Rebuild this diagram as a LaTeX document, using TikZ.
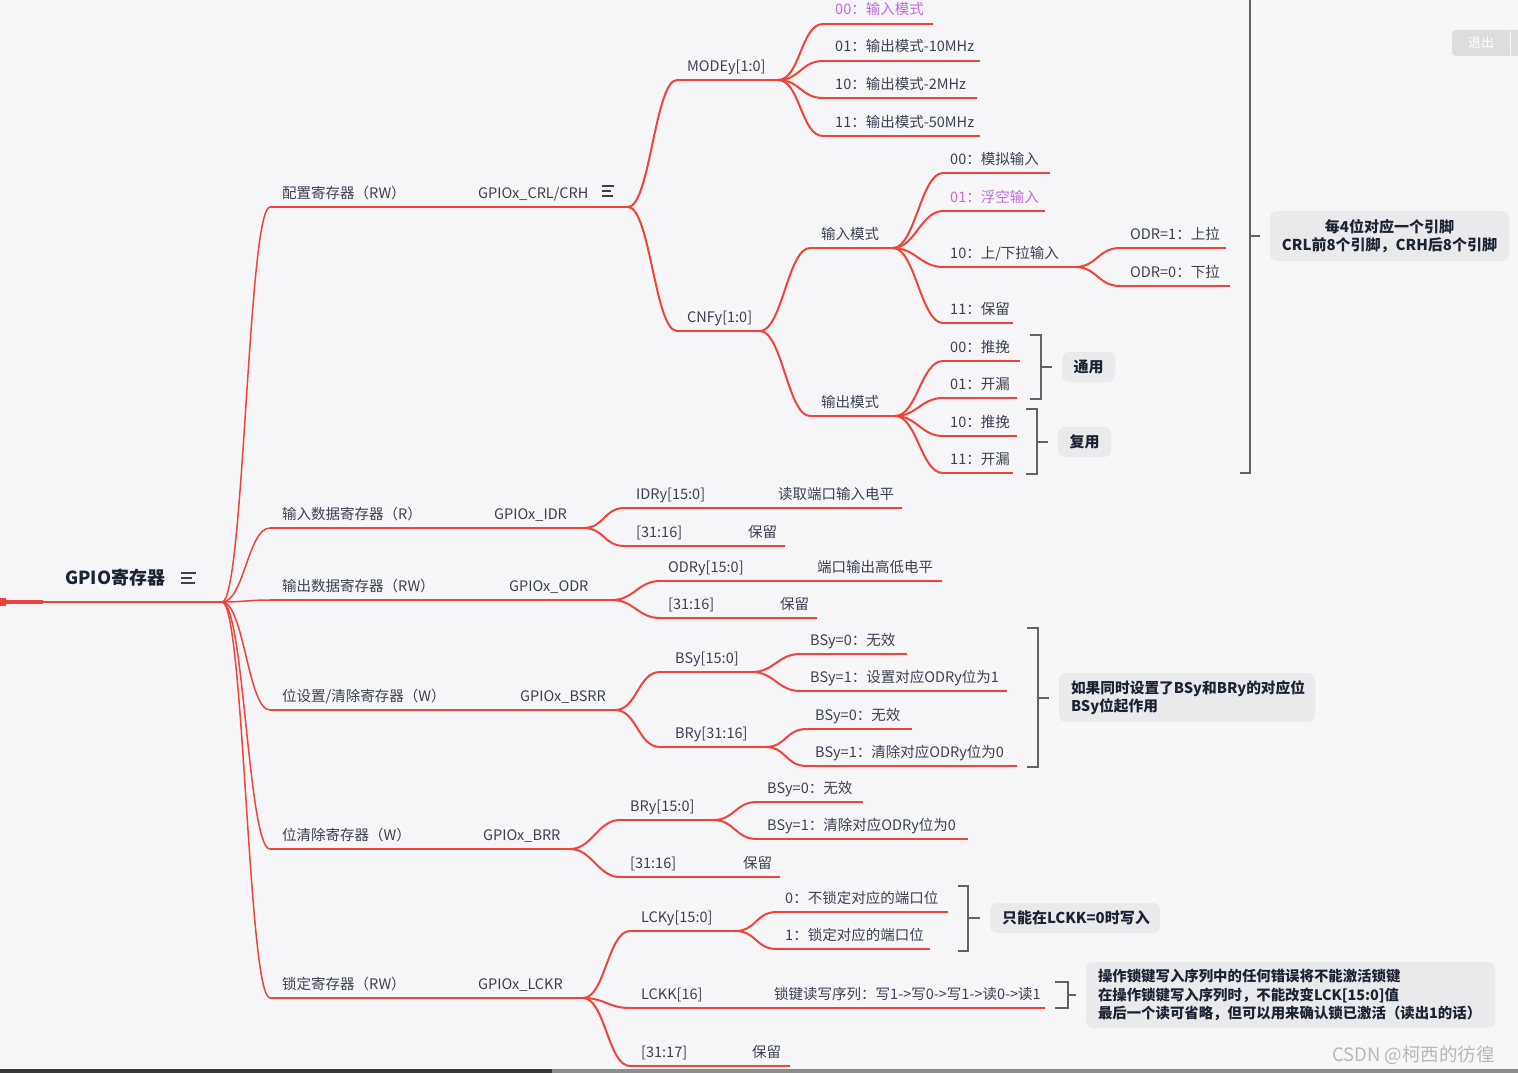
\documentclass[tikz,border=0pt]{standalone}
\usepackage{fontspec}
\setmainfont{Noto Sans CJK SC}
\usetikzlibrary{calc}
\definecolor{bgc}{HTML}{F6F6F9}
\definecolor{redl}{HTML}{F0443A}
\definecolor{txt}{HTML}{3B4150}
\definecolor{txtb}{HTML}{1C2433}
\definecolor{purp}{HTML}{C36BD6}
\definecolor{brk}{HTML}{626262}
\definecolor{cfill}{HTML}{EAEAEC}
\definecolor{wmc}{HTML}{B9B9BC}
\definecolor{qfill}{HTML}{DDDDE0}

\tikzset{
 uline/.style={draw=redl, line width=2pt},
 uline1/.style={draw=redl, line width=1.5pt},
 branch/.style={draw=redl, line width=2pt},
 branch1/.style={draw=redl, line width=1.5pt},
 lbl/.style={anchor=base west, inner sep=0pt, text=txt, font=\fontsize{14.5}{17}\selectfont},
 pur/.style={text=purp},
 brack/.style={draw=brk, line width=2pt},
 callout/.style={fill=cfill, rounded corners=7pt, text=txtb, font=\bfseries\fontsize{15}{18.5}\selectfont, inner xsep=12pt, inner ysep=0pt},
 icon/.style={draw=txt, line width=1.3pt},
}

% topic with red underline: [node opts]{name}{x0}{x1}{y}{text x}{text}
\newcommand\mmtopic[7][]{%
  \coordinate (#2-s) at (#3,#5);
  \coordinate (#2-e) at (#4,#5);
  \draw[uline] (#2-s) -- (#2-e);
  \node[lbl,#1] (#2) at (#6,#5-9) {#7};}
\newcommand\mmtopicA[6]{%
  \coordinate (#1-s) at (#2,#4);
  \coordinate (#1-e) at (#3,#4);
  \draw[uline1] (#1-s) -- (#1-e);
  \node[lbl] (#1) at (#5,#4-9) {#6};}
\newcommand\mmlink[3][branch]{\draw[#1] (#2-e) .. controls +(22,0) and +(-22,0) .. (#3-s);}
% bracket: {name}{x}{ytop}{ybot}{ymid}{xarm}
\newcommand\mmbrack[6]{%
  \coordinate (#1-t) at (#2,#3);
  \coordinate (#1-b) at (#2,#4);
  \coordinate (#1-m) at (#2,#5);
  \draw[brack] (#6,#3) -- (#1-t) -- (#1-b) -- (#6,#4);}
\newcommand\mmicon[3]{%
  \draw[icon] (#1,#2-5) -- +(#3,0);
  \draw[icon] (#1,#2) -- +(#3*0.75,0);
  \draw[icon] (#1,#2+5) -- +(#3*0.9,0);}

\begin{document}
\begin{tikzpicture}[x=1pt,y=-1pt]
\fill[bgc] (0,0) rectangle (1518,1073);
\useasboundingbox (0,0) rectangle (1518,1073);

% root
\node[anchor=base west, inner sep=0pt, text=txtb, font=\bfseries\fontsize{18}{20}\selectfont] (root) at (65,584.5) {GPIO寄存器};
\mmicon{181}{578}{15}
\coordinate (root-s) at (0,602);
\coordinate (root-m) at (43,602);
\coordinate (root-e) at (222,602);
\fill[redl] (0,598) rectangle (6,606);
\draw[redl, line width=4pt] (root-s) -- (root-m);
\draw[redl, line width=2pt] (root-m) -- (root-e);

% level 1 + register names
\mmtopicA{c1}{270}{415}{207}{282}{配置寄存器（RW）}
\mmtopicA{c1g}{415}{628}{207}{478}{GPIOx\_CRL/CRH}
\mmicon{602}{191}{12}
\mmtopicA{c2}{270}{430}{528}{282}{输入数据寄存器（R）}
\mmtopicA{c2g}{430}{583}{528}{494}{GPIOx\_IDR}
\mmtopicA{c3}{270}{445}{600}{282}{输出数据寄存器（RW）}
\mmtopicA{c3g}{445}{612}{600}{509}{GPIOx\_ODR}
\mmtopicA{c4}{270}{455}{710}{282}{位设置/清除寄存器（W）}
\mmtopicA{c4g}{455}{615}{710}{520}{GPIOx\_BSRR}
\mmtopicA{c5}{270}{420}{849}{282}{位清除寄存器（W）}
\mmtopicA{c5g}{420}{570}{849}{483}{GPIOx\_BRR}
\mmtopicA{c6}{270}{415}{998}{282}{锁定寄存器（RW）}
\mmtopicA{c6g}{415}{583}{998}{478}{GPIOx\_LCKR}
\foreach \c in {c1,c2,c3,c4,c5,c6}{\mmlink[branch1]{root}{\c}}

% CRL/CRH
\mmtopic{mo}{677}{778}{80}{687}{MODEy[1:0]}
\mmtopic{cn}{677}{760}{331}{687}{CNFy[1:0]}
\mmlink{c1g}{mo}
\mmlink{c1g}{cn}
\mmtopic[pur]{m0}{823}{933}{24}{835}{00：输入模式}
\mmtopic{m1}{823}{980}{61}{835}{01：输出模式-10MHz}
\mmtopic{m2}{823}{977}{98}{835}{10：输出模式-2MHz}
\mmtopic{m3}{823}{980}{136}{835}{11：输出模式-50MHz}
\foreach \c in {m0,m1,m2,m3}{\mmlink{mo}{\c}}
\mmtopic{in}{810}{893}{248}{821}{输入模式}
\mmtopic{out}{810}{895}{416}{821}{输出模式}
\mmlink{cn}{in}
\mmlink{cn}{out}
\mmtopic{i0}{943}{1050}{173}{950}{00：模拟输入}
\mmtopic[pur]{i1}{943}{1045}{211}{950}{01：浮空输入}
\mmtopic{i2}{943}{1075}{267}{950}{10：上/下拉输入}
\mmtopic{i3}{943}{1013}{323}{950}{11：保留}
\foreach \c in {i0,i1,i2,i3}{\mmlink{in}{\c}}
\mmtopic{p1}{1120}{1226}{248}{1130}{ODR=1：上拉}
\mmtopic{p0}{1120}{1230}{286}{1130}{ODR=0：下拉}
\mmlink{i2}{p1}
\mmlink{i2}{p0}
\mmtopic{o0}{943}{1020}{361}{950}{00：推挽}
\mmtopic{o1}{943}{1017}{398}{950}{01：开漏}
\mmtopic{o2}{943}{1017}{436}{950}{10：推挽}
\mmtopic{o3}{943}{1013}{473}{950}{11：开漏}
\foreach \c in {o0,o1,o2,o3}{\mmlink{out}{\c}}

% IDR
\mmtopic{idr1}{625}{902}{508}{636}{IDRy[15:0]}
\node[lbl] (idr1v) at (778,499) {读取端口输入电平};
\mmtopic{idr2}{625}{785}{546}{636}{[31:16]}
\node[lbl] (idr2v) at (748,537) {保留};
\mmlink{c2g}{idr1}
\mmlink{c2g}{idr2}

% ODR
\mmtopic{odr1}{660}{942}{581}{668}{ODRy[15:0]}
\node[lbl] (odr1v) at (817,572) {端口输出高低电平};
\mmtopic{odr2}{660}{817}{618}{668}{[31:16]}
\node[lbl] (odr2v) at (780,609) {保留};
\mmlink{c3g}{odr1}
\mmlink{c3g}{odr2}

% BSRR
\mmtopic{bs}{660}{752}{672}{675}{BSy[15:0]}
\mmtopic{br}{660}{765}{747}{675}{BRy[31:16]}
\mmlink{c4g}{bs}
\mmlink{c4g}{br}
\mmtopic{bs0}{800}{907}{654}{810}{BSy=0：无效}
\mmtopic{bs1}{800}{1007}{691}{810}{BSy=1：设置对应ODRy位为1}
\mmtopic{br0}{807}{912}{729}{815}{BSy=0：无效}
\mmtopic{br1}{807}{1017}{766}{815}{BSy=1：清除对应ODRy位为0}
\mmlink{bs}{bs0}
\mmlink{bs}{bs1}
\mmlink{br}{br0}
\mmlink{br}{br1}

% BRR
\mmtopic{rr1}{620}{713}{820}{630}{BRy[15:0]}
\mmtopic{rr2}{620}{780}{877}{630}{[31:16]}
\node[lbl] (rr2v) at (743,868) {保留};
\mmlink{c5g}{rr1}
\mmlink{c5g}{rr2}
\mmtopic{rr10}{757}{863}{802}{767}{BSy=0：无效}
\mmtopic{rr11}{757}{968}{839}{767}{BSy=1：清除对应ODRy位为0}
\mmlink{rr1}{rr10}
\mmlink{rr1}{rr11}

% LCKR
\mmtopic{lk1}{630}{735}{931}{641}{LCKy[15:0]}
\mmtopic{lk2}{630}{1045}{1008}{641}{LCKK[16]}
\node[lbl] (lk2v) at (774,999) {锁键读写序列：写1->写0->写1->读0->读1};
\mmtopic{lk3}{630}{790}{1066}{641}{[31:17]}
\node[lbl] (lk3v) at (752,1057) {保留};
\mmlink{c6g}{lk1}
\mmlink{c6g}{lk2}
\mmlink{c6g}{lk3}
\mmtopic{l0}{777}{948}{912}{785}{0：不锁定对应的端口位}
\mmtopic{l1}{777}{930}{949}{785}{1：锁定对应的端口位}
\mmlink{lk1}{l0}
\mmlink{lk1}{l1}

% callouts
\node[callout, align=center, minimum width=235pt, minimum height=50pt] (co0) at (1389.5,236) {每4位对应一个引脚\\CRL前8个引脚，CRH后8个引脚};
\node[callout, align=center, minimum width=53pt, minimum height=30pt, inner xsep=0pt] (co1) at (1088.5,367) {通用};
\node[callout, align=center, minimum width=53pt, minimum height=30pt, inner xsep=0pt] (co2) at (1084.5,442) {复用};
\node[callout, align=left, text width=232pt, minimum height=49pt, font=\bfseries\fontsize{14.7}{18}\selectfont] (co4) at (1187,697.5) {如果同时设置了BSy和BRy的对应位\\BSy位起作用};
\node[callout, align=left, text width=146pt, minimum height=30pt] (co6a) at (1075,918) {只能在LCKK=0时写入};
\node[callout, align=left, text width=385pt, minimum height=66pt, font=\bfseries\fontsize{14.4}{18.5}\selectfont] (co6b) at (1290.5,995) {操作锁键写入序列中的任何错误将不能激活锁键\\在操作锁键写入序列时，不能改变LCK[15:0]值\\最后一个读可省略，但可以用来确认锁已激活（读出1的话）};

% brackets
\mmbrack{bk0}{1250}{-5}{473}{236}{1240}
\draw[brack, shorten >=10pt] (bk0-m) -- (bk0-m -| co0.west);
\mmbrack{bk1}{1041}{335}{399}{367}{1030}
\draw[brack, shorten >=10pt] (bk1-m) -- (bk1-m -| co1.west);
\mmbrack{bk2}{1037}{409}{474}{442}{1026}
\draw[brack, shorten >=10pt] (bk2-m) -- (bk2-m -| co2.west);
\mmbrack{bk4}{1038}{628}{767}{698}{1027}
\draw[brack, shorten >=10pt] (bk4-m) -- (bk4-m -| co4.west);
\mmbrack{bk6a}{968}{886}{951}{918}{958}
\draw[brack, shorten >=10pt] (bk6a-m) -- (bk6a-m -| co6a.west);
\mmbrack{bk6b}{1068}{982}{1008}{995}{1055}
\draw[brack, shorten >=10pt] (bk6b-m) -- (bk6b-m -| co6b.west);

% exit button
\node[fill=qfill, rounded corners=4pt, minimum width=70pt, minimum height=26pt, inner sep=0pt] (quitbox) at (1487,43) {};
\node[text=white, font=\fontsize{13}{14}\selectfont, inner sep=0pt] (quit) at (1481,43) {退出};
\draw[white!85!qfill, line width=1pt] (1510,31) -- (1510,55);

% watermark
\node[anchor=base west, inner sep=0pt, text=wmc, font=\fontsize{18.5}{20}\selectfont] (wm) at (1332,1061) {CSDN @柯西的彷徨};

% bottom bar
\fill[black!78] (0,1069) rectangle (552,1073);
\fill[black!45] (552,1069) rectangle (1518,1073);
\end{tikzpicture}
\end{document}
